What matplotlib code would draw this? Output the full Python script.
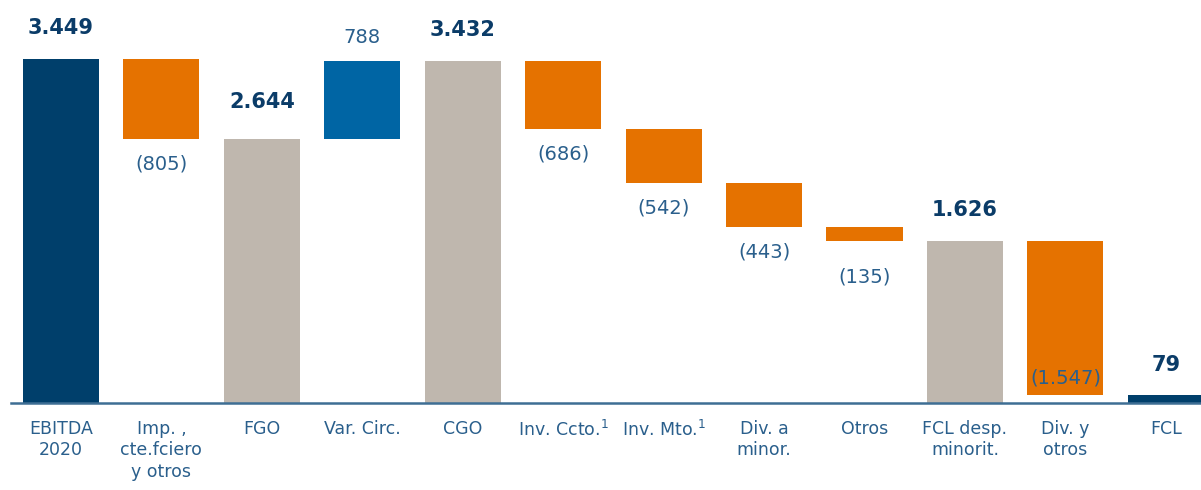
import matplotlib
matplotlib.use("Agg")
import matplotlib.pyplot as plt

# ---------------------------------------------------------------------------
# Data (millions)
# ---------------------------------------------------------------------------
categories = ["EBITDA\n2020", "Imp. ,\ncte.fciero\ny otros", "FGO", "Var. Circ.", "CGO",
              "Inv. Ccto.$^1$", "Inv. Mto.$^1$", "Div. a\nminor.", "Otros",
              "FCL desp.\nminorit.", "Div. y\notros", "FCL"]
values = [3449, -805, 2644, 788, 3432, -686, -542, -443, -135, 1626, -1547, 79]
kinds = ["start", "neg", "total", "pos", "total", "neg", "neg", "neg", "neg", "total", "neg", "end"]
labels = ["3.449", "(805)", "2.644", "788", "3.432", "(686)", "(542)", "(443)", "(135)",
          "1.626", "(1.547)", "79"]

COLORS = {"start": "#003f6b", "end": "#003f6b", "total": "#bfb7ae",
          "neg": "#e57200", "pos": "#0065a4"}
DARK = "#0b3c68"
MID = "#2a5f8c"

fig = plt.figure(figsize=(12.01, 4.9), dpi=100)
ax = fig.add_axes([0, 87 / 490, 1, 403 / 490])

running = 0
for i, (v, k, lab) in enumerate(zip(values, kinds, labels)):
    if k in ("start", "end", "total"):
        bottom, height = 0, v
        running = v
    else:
        bottom = running + v if v < 0 else running
        height = abs(v)
        running = running + v
    ax.bar(i, height, bottom=bottom, width=0.757, color=COLORS[k], linewidth=0)

    top = bottom + height
    if k in ("start", "end", "total"):
        dy = 27 if i == 2 else 22
        ax.annotate(lab, (i, top), xytext=(0, dy), textcoords="offset points",
                    ha="center", va="center", fontsize=15, fontweight="bold", color=DARK)
    elif k == "pos":
        ax.annotate(lab, (i, top), xytext=(0, 17), textcoords="offset points",
                    ha="center", va="center", fontsize=14, color=MID)
    else:
        if i == 10:
            dy = 12
        elif i == 8:
            dy = -26
        else:
            dy = -18
        ax.annotate(lab, (i, bottom), xytext=(0, dy), textcoords="offset points",
                    ha="center", va="center", fontsize=14, color=MID)

ax.set_xlim(-0.607, 11.35)
ax.set_ylim(0, 4040)

# baseline
ax.plot([-0.5, 11.4], [0, 0], color="#3e6e94", linewidth=1.8, clip_on=False, zorder=3)

ax.set_xticks(range(len(categories)))
ax.set_xticklabels(categories, fontsize=12.5, color=MID, linespacing=1.25, va="top")
ax.tick_params(axis="x", length=0, pad=12)
ax.set_yticks([])
for s in ax.spines.values():
    s.set_visible(False)

plt.savefig("out.png", dpi=100)
